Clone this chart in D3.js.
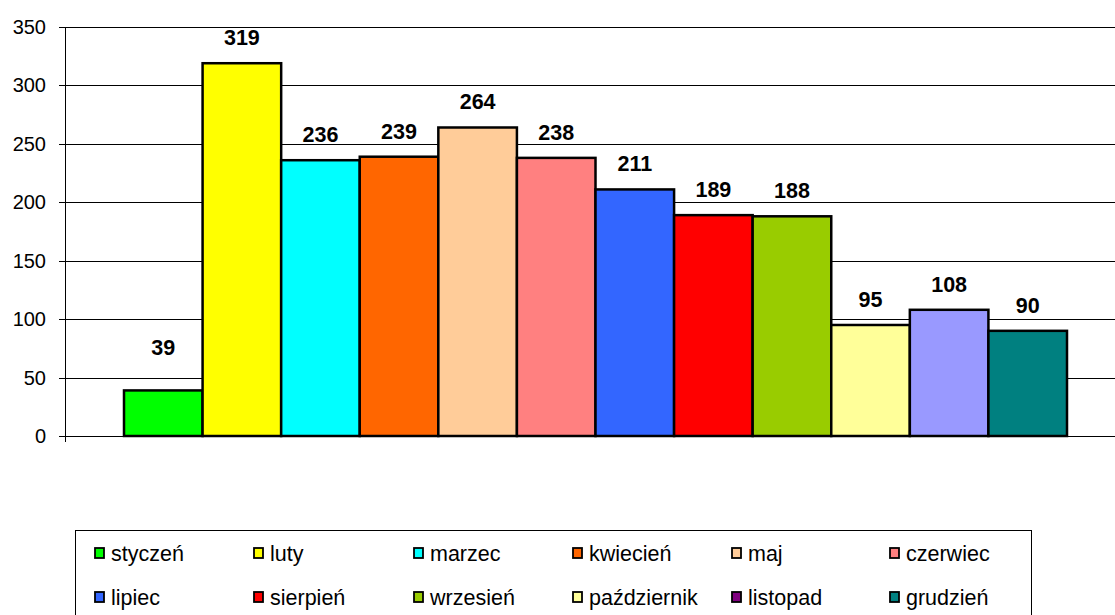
<!DOCTYPE html>
<html><head><meta charset="utf-8">
<script src="https://cdn.jsdelivr.net/npm/d3@7"></script>
<style>body{margin:0;background:#fff}svg{display:block}</style>
</head><body><svg id="c" width="1115" height="615"></svg>
<script>
const months = ["styczeń","luty","marzec","kwiecień","maj","czerwiec","lipiec","sierpień","wrzesień","październik","listopad","grudzień"];
const values = [39,319,236,239,264,238,211,189,188,95,108,90];
const barColors = ["#00FF00","#FFFF00","#00FFFF","#FF6600","#FFCC99","#FF8080","#3366FF","#FF0000","#99CC00","#FFFF99","#9999FF","#008080"];
const legendColors = ["#00FF00","#FFFF00","#00FFFF","#FF6600","#FFCC99","#FF8080","#3366FF","#FF0000","#99CC00","#FFFF99","#800080","#008080"];
const yTicks = [0,50,100,150,200,250,300,350];

const svg = d3.select("#c");
const font = "Arial, 'Liberation Sans', sans-serif";
const axisX = 65, plotRight = 1115;
const y = d3.scaleLinear().domain([0,350]).range([436,27]);
const x = d3.scaleBand().domain(months).range([124,1067]).padding(0);

// gridlines
svg.append("g").selectAll("line").data(yTicks).join("line")
  .attr("x1", axisX-6).attr("x2", plotRight)
  .attr("y1", d=>Math.round(y(d))+0.5).attr("y2", d=>Math.round(y(d))+0.5)
  .attr("stroke","#000").attr("stroke-width",1);

// y tick labels
svg.append("g").selectAll("text").data(yTicks).join("text")
  .attr("x", 46).attr("y", d=>y(d)).attr("dy","0.35em")
  .attr("text-anchor","end").attr("font-family",font).attr("font-size",20).attr("fill","#000")
  .text(d=>d);

// axis line
svg.append("line").attr("x1",axisX+0.5).attr("x2",axisX+0.5).attr("y1",y(350)).attr("y2",y(0)+6)
  .attr("stroke","#000").attr("stroke-width",1);

// bars
svg.append("g").selectAll("rect").data(months).join("rect")
  .attr("x", d=>x(d)).attr("width", x.bandwidth())
  .attr("y", (d,i)=>y(values[i])).attr("height", (d,i)=>y(0)-y(values[i]))
  .attr("fill", (d,i)=>barColors[i]).attr("stroke","#000").attr("stroke-width",2.5);

// value labels
svg.append("g").selectAll("text").data(months).join("text")
  .attr("x", d=>x(d)+x.bandwidth()/2)
  .attr("y", (d,i)=>y(values[i]) - (i===0 ? 35 : 18))
  .attr("text-anchor","middle").attr("font-family",font).attr("font-size",21.5).attr("font-weight","bold")
  .text((d,i)=>values[i]);

// legend
const lg = svg.append("g");
lg.append("rect").attr("x",75.5).attr("y",530.5).attr("width",956).attr("height",100)
  .attr("fill","#fff").attr("stroke","#000").attr("stroke-width",1);
const colX = [95,254,414,573,732,890];
const rowY = [553,597];
const items = lg.selectAll("g").data(months).join("g")
  .attr("transform",(d,i)=>`translate(${colX[i%6]},${rowY[Math.floor(i/6)]})`);
items.append("rect").attr("x",0).attr("y",-5).attr("width",9).attr("height",10)
  .attr("fill",(d,i)=>legendColors[i]).attr("stroke","#000").attr("stroke-width",1.8);
items.append("text").attr("x",16).attr("y",0).attr("dy","0.35em")
  .attr("font-family",font).attr("font-size",21.5).attr("fill","#000").text(d=>d);
</script></body></html>
